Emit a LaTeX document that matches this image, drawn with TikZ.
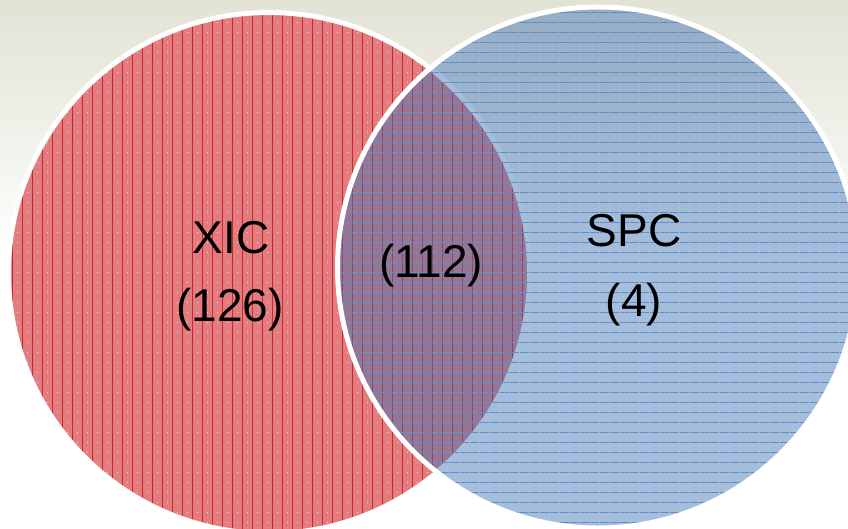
\documentclass[tikz,border=0pt]{standalone}
\usepackage{fontspec}
\setmainfont{Liberation Sans}
\definecolor{bgtop}{RGB}{226,226,213}
\definecolor{redfill}{RGB}{226,124,126}
\definecolor{redline}{RGB}{202,38,46}
\definecolor{bluebase}{RGB}{56,111,178}
\definecolor{blueline}{RGB}{100,140,202}
\tikzset{
  hatchred/.style={draw=redline, line width=0.6pt},
  dotwhite/.style={draw=white, opacity=0.7, line width=0.9pt, dash pattern=on 0.9pt off 9.1pt},
  hatchblue/.style={draw=blueline, line width=0.7pt, dash pattern=on 8.6pt off 1.4pt},
  rim/.style={draw=white, line width=5pt},
  lbl/.style={font=\fontsize{46}{50}\selectfont, text=black, anchor=base, inner sep=0pt}
}
\begin{document}
\begin{tikzpicture}[x=1pt,y=-1pt]
\useasboundingbox (0,0) rectangle (848,529);
% background
\fill[white] (0,0) rectangle (848,529);
\shade[top color=bgtop, bottom color=white] (0,0) rectangle (848,260);
% left set
\begin{scope}
  \clip (269,273) circle[radius=260.5];
  \fill[redfill] (0,0) rectangle (848,529);
  \foreach \x in {2,12,...,532} {
    \draw[hatchred] (\x,0) -- (\x,529);
    \draw[dotwhite] (\x+5,2) -- (\x+5,529);
  }
\end{scope}
\draw[rim] (269,273) circle[radius=260.5];
% right set
\begin{scope}
  \clip (598,267.5) circle[radius=260.5];
  \fill[bluebase, opacity=0.45] (0,0) rectangle (848,529);
  \foreach \y in {2,12,...,532} {
    \draw[hatchblue] (330,\y) -- (860,\y);
  }
\end{scope}
\draw[rim] (598,267.5) circle[radius=260.5];
% labels
\node[lbl] (xic) at (231,254) {XIC};
\node[lbl] (xicn) at (230,321) {(126)};
\node[lbl] (both) at (431,277) {(112)};
\node[lbl] (spc) at (634,247) {SPC};
\node[lbl] (spcn) at (634,316) {(4)};
\end{tikzpicture}
\end{document}
